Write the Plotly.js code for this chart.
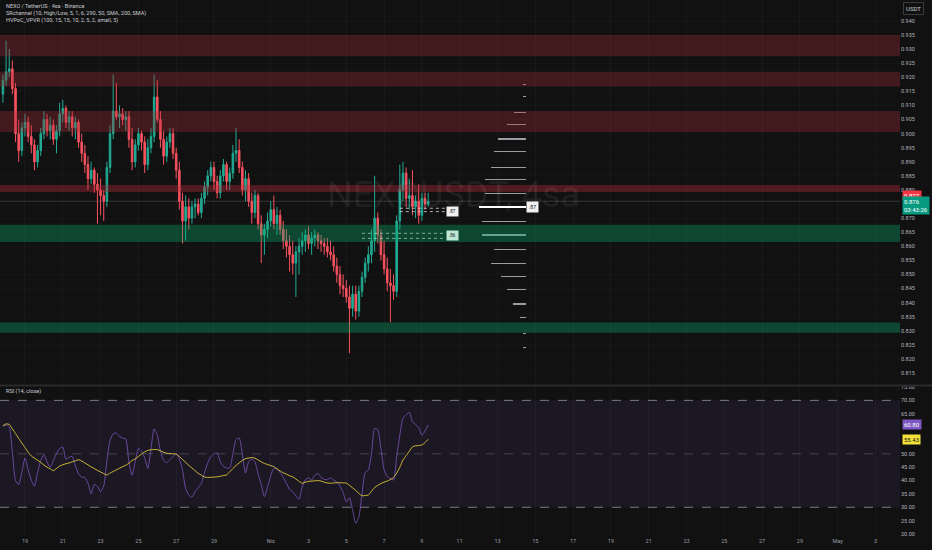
<!DOCTYPE html>
<html><head><meta charset="utf-8">
<script src="https://cdn.plot.ly/plotly-3.0.1.min.js"></script>
<style>html,body{margin:0;padding:0;background:#111111;}#chart{width:932px;height:550px;}</style>
</head><body><div id="chart"></div>
<script>
// ---- data ----
const candleStart = '2025-03-17T20:00:00Z';
const candleStepHours = 4;
const opens = [.914,.919,.922,.923,.916,.900,.894,.902,.904,.899,.896,.890,.894,.900,.905,.901,.903,.898,.901,.907,
.909,.904,.906,.902,.904,.897,.893,.889,.884,.887,.882,.880,.878,.876,.888,.900,.908,.906,.907,.905,
.906,.898,.890,.896,.900,.897,.889,.895,.899,.913,.905,.898,.892,.897,.900,.893,.887,.876,.869,.874,
.870,.874,.875,.872,.877,.881,.885,.888,.883,.879,.885,.889,.883,.886,.893,.894,.888,.880,.884,.876,
.872,.878,.868,.864,.866,.869,.873,.868,.871,.866,.862,.860,.857,.854,.858,.860,.862,.864,.861,.863,
.864,.862,.861,.860,.858,.857,.853,.850,.846,.845,.842,.838,.843,.837,.844,.849,.854,.857,.862,.870,
.864,.857,.852,.847,.846,.844,.869,.880,.886,.877,.878,.874,.876,.871,.877,.875];
const highs = [.921,.933,.930,.926,.918,.905,.904,.907,.906,.903,.898,.896,.902,.908,.907,.906,.905,.903,.911,.912,
.910,.908,.908,.906,.905,.900,.896,.892,.890,.888,.886,.884,.880,.890,.903,.921,.918,.910,.909,.908,
.908,.902,.898,.902,.901,.899,.898,.902,.921,.919,.908,.901,.899,.902,.902,.895,.890,.879,.878,.877,
.876,.877,.877,.879,.883,.887,.890,.890,.885,.887,.891,.890,.888,.896,.902,.898,.890,.887,.886,.879,
.880,.879,.871,.868,.872,.876,.878,.874,.873,.869,.866,.864,.862,.860,.863,.865,.866,.867,.865,.866,
.865,.864,.863,.863,.862,.860,.856,.853,.850,.848,.846,.846,.846,.846,.851,.856,.860,.866,.885,.872,
.866,.862,.856,.852,.850,.871,.889,.890,.888,.884,.887,.878,.882,.879,.879,.879];
const lows = [.911,.917,.920,.914,.897,.890,.892,.899,.897,.893,.887,.888,.892,.898,.899,.898,.896,.893,.899,.904,
.902,.901,.899,.898,.895,.890,.886,.880,.882,.879,.868,.871,.869,.874,.886,.898,.905,.902,.903,.901,
.895,.887,.888,.894,.894,.886,.887,.893,.897,.904,.895,.889,.890,.895,.891,.884,.873,.861,.862,.866,
.868,.870,.871,.870,.875,.878,.883,.880,.877,.877,.883,.880,.880,.884,.890,.886,.878,.876,.874,.868,
.870,.866,.854,.857,.863,.867,.866,.864,.864,.859,.856,.851,.850,.842,.850,.857,.858,.859,.857,.860,
.859,.858,.857,.856,.855,.851,.847,.843,.842,.840,.822,.835,.834,.835,.842,.847,.851,.854,.858,.861,
.855,.850,.844,.833,.841,.842,.866,.876,.874,.873,.871,.870,.868,.869,.873,.874];
const closes = [.919,.922,.923,.916,.900,.894,.902,.904,.899,.896,.890,.894,.900,.905,.901,.903,.898,.901,.907,.909,
.904,.906,.902,.904,.897,.893,.889,.884,.887,.882,.880,.878,.876,.888,.900,.908,.906,.907,.905,.906,
.898,.890,.896,.900,.897,.889,.895,.899,.913,.905,.898,.892,.897,.900,.893,.887,.876,.869,.874,.870,
.874,.875,.872,.877,.881,.885,.888,.883,.879,.885,.889,.883,.886,.893,.894,.888,.880,.884,.876,.872,
.878,.868,.864,.866,.869,.873,.868,.871,.866,.862,.860,.857,.854,.858,.860,.862,.864,.861,.863,.864,
.862,.861,.860,.858,.857,.853,.850,.846,.845,.842,.838,.843,.837,.844,.849,.854,.857,.862,.870,.864,
.857,.852,.847,.846,.844,.869,.880,.886,.877,.878,.874,.876,.871,.877,.875,.876];
const rsiValues = [60.3,60.8,60,50.5,40,38.5,43,48.4,44,40.2,37.9,43,47.5,49.6,47,45,47.5,50,52,52.5,
48,48.7,49,45.5,42.5,41.3,41.1,39,35,38.5,37.8,35.8,38,47.5,55,57.5,57.8,56.5,55.9,55.5,
47,42,47,52,51,48.5,44.5,52,59.3,57,51,47.6,46.7,47.8,49,50.2,48,44,37,34.6,
33.8,35.8,37.3,39,43,46.5,49,50,50.4,47,45.3,44.7,44.7,50,55.3,55.9,50,42.8,47,48,
47,42.5,38.5,34,37.5,41.8,44.5,44.2,43,41.2,39,36.7,35.8,34.3,33,37.6,40.3,41,40.2,42,
42.6,41.2,40.5,40.3,41,40.2,39.4,38,35.5,32,33.6,29,24,26.5,35,43,44,50,59.5,59,
52,44,41.5,40.8,40.2,49,57,63.4,64.5,65.6,62,61,59.8,57,58.5,60.8];
const rsiMA = [60.5,61.2,61,59.3,57.6,55.8,54,52.4,50.6,49.2,48.4,47.6,46.8,45.8,45,44.4,43.7,44.5,45.4,45.9,
46.3,46.6,47,47.4,47.8,47.3,46.6,45.9,45.1,44.5,43.8,43.2,42.6,42.1,42.8,43.4,44,44.6,45.2,45.7,
46.5,47.5,48.1,49,49.9,50.7,51.3,51.5,51.6,51.6,51.1,50.6,50.2,50.1,50,49.9,49,47.9,46.8,45.7,
44.7,43.7,42.7,42,41.3,41.2,41.2,41.3,41.4,41.6,41.9,42.1,43.3,44.5,45.6,46.6,47.5,48.2,48.4,48.6,
48.4,47.7,47,46.4,46,45.6,45.2,44.4,43.6,42.9,42.4,41.8,41.4,40.6,39.7,39,39.4,39.7,39.8,39.9,
40,39.8,39.4,39.1,39,39.1,39.2,39.2,39.1,39.1,38.2,37.3,36.3,35.2,34.3,34.4,34.6,36,37.4,38.2,
38.9,39.4,39.8,40.4,41.1,42.8,45,47.7,49.3,51,52.6,53,53.1,53.3,54.2,55.43];
const priceTickVals = [0.815,0.820,0.825,0.830,0.835,0.840,0.845,0.850,0.855,0.860,0.865,0.870,0.875,0.880,0.885,0.890,0.895,0.900,0.905,0.910,0.915,0.920,0.925,0.930,0.935,0.940];
const priceTickText = ['0.815','0.820','0.825','0.830','0.835','0.840','0.845','0.850','0.855','0.860','0.865','0.870','','0.880','0.885','0.890','0.895','0.900','0.905','0.910','0.915','0.920','0.925','0.930','0.935','0.940'];
const rsiTickVals = [20,25,30,35,40,45,50,55,60,65,70,75];
const rsiTickText = ['20.00','25.00','30.00','35.00','40.00','45.00','50.00','','','65.00','70.00','75.00'];
const dateTickVals = ['2025-03-19','2025-03-21','2025-03-23','2025-03-25','2025-03-27','2025-03-29','2025-04-01','2025-04-03','2025-04-05','2025-04-07','2025-04-09','2025-04-11','2025-04-13','2025-04-15','2025-04-17','2025-04-19','2025-04-21','2025-04-23','2025-04-25','2025-04-27','2025-04-29','2025-05-01','2025-05-03'];
const dateTickText = ['19','21','23','25','27','29','Nis','3','5','7','9','11','13','15','17','19','21','23','25','27','29','May','3'];
const zoneTop =    [0.9350,0.9220,0.9080,0.8818,0.8676,0.8329];
const zoneBottom = [0.9275,0.9167,0.9006,0.8793,0.8615,0.8293];
const zoneKind =   ['res','res','res','res','sup','sup'];
const vpLevels  = [0.9173,0.9131,0.9074,0.9034,0.8981,0.8938,0.8879,0.8838,0.8786,0.8738,0.8687,0.8640,0.8587,0.8540,0.8492,0.8445,0.8395,0.8346,0.8291,0.8241];
const vpVolumes = [3,3,12,19,28,32,35,41,41,47,44,44,32,35,25,19,13,6,3,3];
const hvpocLevels = [0.8735,0.8723,0.8646,0.8628];
const hvpocStart = ['2025-04-07 20:00','2025-04-07 20:00','2025-04-05 20:00','2025-04-05 20:00'];
const hvpocEnd = '2025-04-10 07:00';

// ---- build ----
const t0 = Date.parse(candleStart);
function fmt(ms){ return new Date(ms).toISOString().slice(0,16).replace('T',' '); }
const times = opens.map((_, i) => fmt(t0 + i*candleStepHours*3600000));

const traces = [];
traces.push({
  type:'candlestick', x:times, open:opens, high:highs, low:lows, close:closes,
  xaxis:'x', yaxis:'y', whiskerwidth:0,
  increasing:{line:{color:'#22ab94',width:1}, fillcolor:'#22ab94'},
  decreasing:{line:{color:'#f7525f',width:1}, fillcolor:'#f7525f'},
  hoverinfo:'skip'
});
hvpocLevels.forEach((lv,k)=>{
  traces.push({type:'scatter', mode:'lines', x:[hvpocStart[k], hvpocEnd], y:[lv,lv],
    xaxis:'x', yaxis:'y', line:{color:'#dcdcdc', width:0.8, dash:'dot'}, hoverinfo:'skip'});
});
const maxVol = Math.max(...vpVolumes);
traces.push({
  type:'bar', orientation:'h', y:vpLevels, x:vpVolumes.map(v=>-v), base:0,
  xaxis:'x3', yaxis:'y',
  width: vpVolumes.map(v => v===maxVol ? 0.0007 : 0.00038),
  marker:{color: vpVolumes.map(v => v===maxVol ? '#ffffff' : '#9a9da4'), line:{width:0}},
  hoverinfo:'skip'
});
traces.push({type:'scatter', mode:'lines', x:times, y:rsiValues, xaxis:'x', yaxis:'y2', opacity:0.85,
  line:{color:'#7e57c2', width:0.9, shape:'spline', smoothing:0.6}, hoverinfo:'skip'});
traces.push({type:'scatter', mode:'lines', x:times, y:rsiMA, xaxis:'x', yaxis:'y2',
  line:{color:'#e0c83a', width:0.9, shape:'spline', smoothing:0.6}, hoverinfo:'skip'});

const shapes = [];
zoneTop.forEach((top,k)=>{
  shapes.push({type:'rect', xref:'paper', yref:'y', x0:0, x1:1, y0:zoneBottom[k], y1:top,
    fillcolor: zoneKind[k]==='res' ? (k===3 ? 'rgba(190,48,60,0.36)' : 'rgba(170,44,52,0.32)') : 'rgba(6,175,110,0.34)',
    line:{width:0}, layer:'above'});
});
shapes.push({type:'line', xref:'paper', yref:'y', x0:0, x1:1, y0:closes[closes.length-1], y1:closes[closes.length-1],
  line:{color:'rgba(120,123,134,0.35)', width:1}, layer:'below'});
shapes.push({type:'rect', xref:'paper', yref:'y2', x0:0, x1:1, y0:30, y1:70, fillcolor:'rgba(126,87,194,0.10)', line:{width:0}, layer:'below'});
[70,30].forEach(v=>shapes.push({type:'line', xref:'paper', yref:'y2', x0:0, x1:1, y0:v, y1:v, line:{color:'#787b86', width:1, dash:'dash'}, layer:'below'}));
shapes.push({type:'line', xref:'paper', yref:'y2', x0:0, x1:1, y0:50, y1:50, line:{color:'rgba(120,123,134,0.45)', width:1, dash:'dash'}, layer:'below'});
shapes.push({type:'line', xref:'paper', yref:'paper', x0:0, x1:1.036, y0:0.2808, y1:0.2808, line:{color:'#2a2a2a', width:2}});

const txt = '#c9ccd4';
const annotations = [
  {xref:'paper', yref:'paper', x:0.504, y:0.636, text:'NEXOUSDT, 4sa', showarrow:false, font:{size:36, color:'rgba(255,255,255,0.065)', family:'Roboto'}},
  {xref:'paper', yref:'paper', x:0.0045, y:0.989, xanchor:'left', yanchor:'middle', text:'NEXO / TetherUS · 4sa · Binance', showarrow:false, font:{size:5.5, color:txt, family:'Roboto'}},
  {xref:'paper', yref:'paper', x:0.0045, y:0.974, xanchor:'left', yanchor:'middle', text:'SRchannel (10, High/Low, 5, 1, 6, 290, 50, SMA, 200, SMA)', showarrow:false, font:{size:5.5, color:txt, family:'Roboto'}},
  {xref:'paper', yref:'paper', x:0.0045, y:0.961, xanchor:'left', yanchor:'middle', text:'HVPoC_VPVR (100, 15, 15, 10, 2, 5, 2, small, 5)', showarrow:false, font:{size:5.5, color:txt, family:'Roboto'}},
  {xref:'paper', yref:'paper', x:0.0045, y:0.269, xanchor:'left', yanchor:'middle', text:'RSI (14, close)', showarrow:false, font:{size:5.5, color:txt, family:'Roboto'}},
  {xref:'paper', yref:'paper', x:1.0035, y:0.985, xanchor:'left', yanchor:'middle', text:'USDT', showarrow:false, font:{size:6, color:txt, family:'Roboto'}, bordercolor:'#3a3a3a', borderwidth:1, borderpad:2, bgcolor:'#111111'},
  {xref:'paper', yref:'y', x:1.002, y:0.8781, xanchor:'left', yanchor:'middle', text:'0.877', showarrow:false, font:{size:6, color:'#ffffff', family:'Roboto'}, bgcolor:'#f23645', borderpad:1},
  {xref:'paper', yref:'y', x:1.002, y:0.8744, xanchor:'left', yanchor:'middle', text:'0.876<br>03:43:26', showarrow:false, align:'left', font:{size:6, color:'#ffffff', family:'Roboto'}, bgcolor:'#089981', borderpad:1},
  {xref:'paper', yref:'y2', x:1.002, y:rsiValues[rsiValues.length-1], xanchor:'left', yanchor:'middle', text:'60.80', showarrow:false, font:{size:6, color:'#ffffff', family:'Roboto'}, bgcolor:'#7e57c2', borderpad:1},
  {xref:'paper', yref:'y2', x:1.002, y:rsiMA[rsiMA.length-1], xanchor:'left', yanchor:'middle', text:'55.43', showarrow:false, font:{size:6, color:'#111111', family:'Roboto'}, bgcolor:'#f5e13c', borderpad:1},
  {xref:'x', yref:'y', x:'2025-04-10 15:00', y:hvpocLevels[1], text:'.87', showarrow:false, font:{size:4.5, color:'#111111', family:'Roboto'}, bgcolor:'#f0f0f0', borderpad:2},
  {xref:'x', yref:'y', x:'2025-04-10 15:00', y:hvpocLevels[2]-0.0008, text:'.86', showarrow:false, font:{size:4.5, color:'#111111', family:'Roboto'}, bgcolor:'#bfe8d4', borderpad:2},
  {xref:'x3', yref:'y', x:0, y:vpLevels[vpVolumes.indexOf(maxVol)], xanchor:'left', text:'.87', showarrow:false, font:{size:5, color:'#111111', family:'Roboto'}, bgcolor:'#f0f0f0', borderpad:2}
];

const layout = {
  width:932, height:550, paper_bgcolor:'#111111', plot_bgcolor:'#111111',
  margin:{l:0, r:32, t:0, b:14}, showlegend:false,
  font:{family:'Roboto', color:'#b2b5be'},
  xaxis:{type:'date', range:['2025-03-17 16:16','2025-05-04 07:07'], anchor:'y2',
    tickvals:dateTickVals, ticktext:dateTickText, tickfont:{size:5.5, color:'#9a9da5'}, ticks:'', ticklen:0,
    showgrid:true, gridcolor:'rgba(255,255,255,0.03)', zeroline:false, showline:false,
    rangeslider:{visible:false}, fixedrange:true},
  xaxis3:{overlaying:'x', anchor:'y', range:[-526,374], visible:false, fixedrange:true},
  yaxis:{domain:[0.2836,1], range:[0.811094,0.947457], side:'right', anchor:'x',
    tickvals:priceTickVals, ticktext:priceTickText, tickfont:{size:5.5, color:'#b2b5be'}, ticks:'',
    showgrid:true, gridcolor:'rgba(255,255,255,0.02)', zeroline:false, showline:false, fixedrange:true},
  yaxis2:{domain:[0,0.278], range:[19.26,75], side:'right', anchor:'x',
    tickvals:rsiTickVals, ticktext:rsiTickText, tickfont:{size:5.5, color:'#b2b5be'}, ticks:'',
    showgrid:false, zeroline:false, showline:false, fixedrange:true},
  shapes:shapes, annotations:annotations, bargap:0
};

Plotly.newPlot('chart', traces, layout, {staticPlot:true, displayModeBar:false});
</script>
</body></html>
